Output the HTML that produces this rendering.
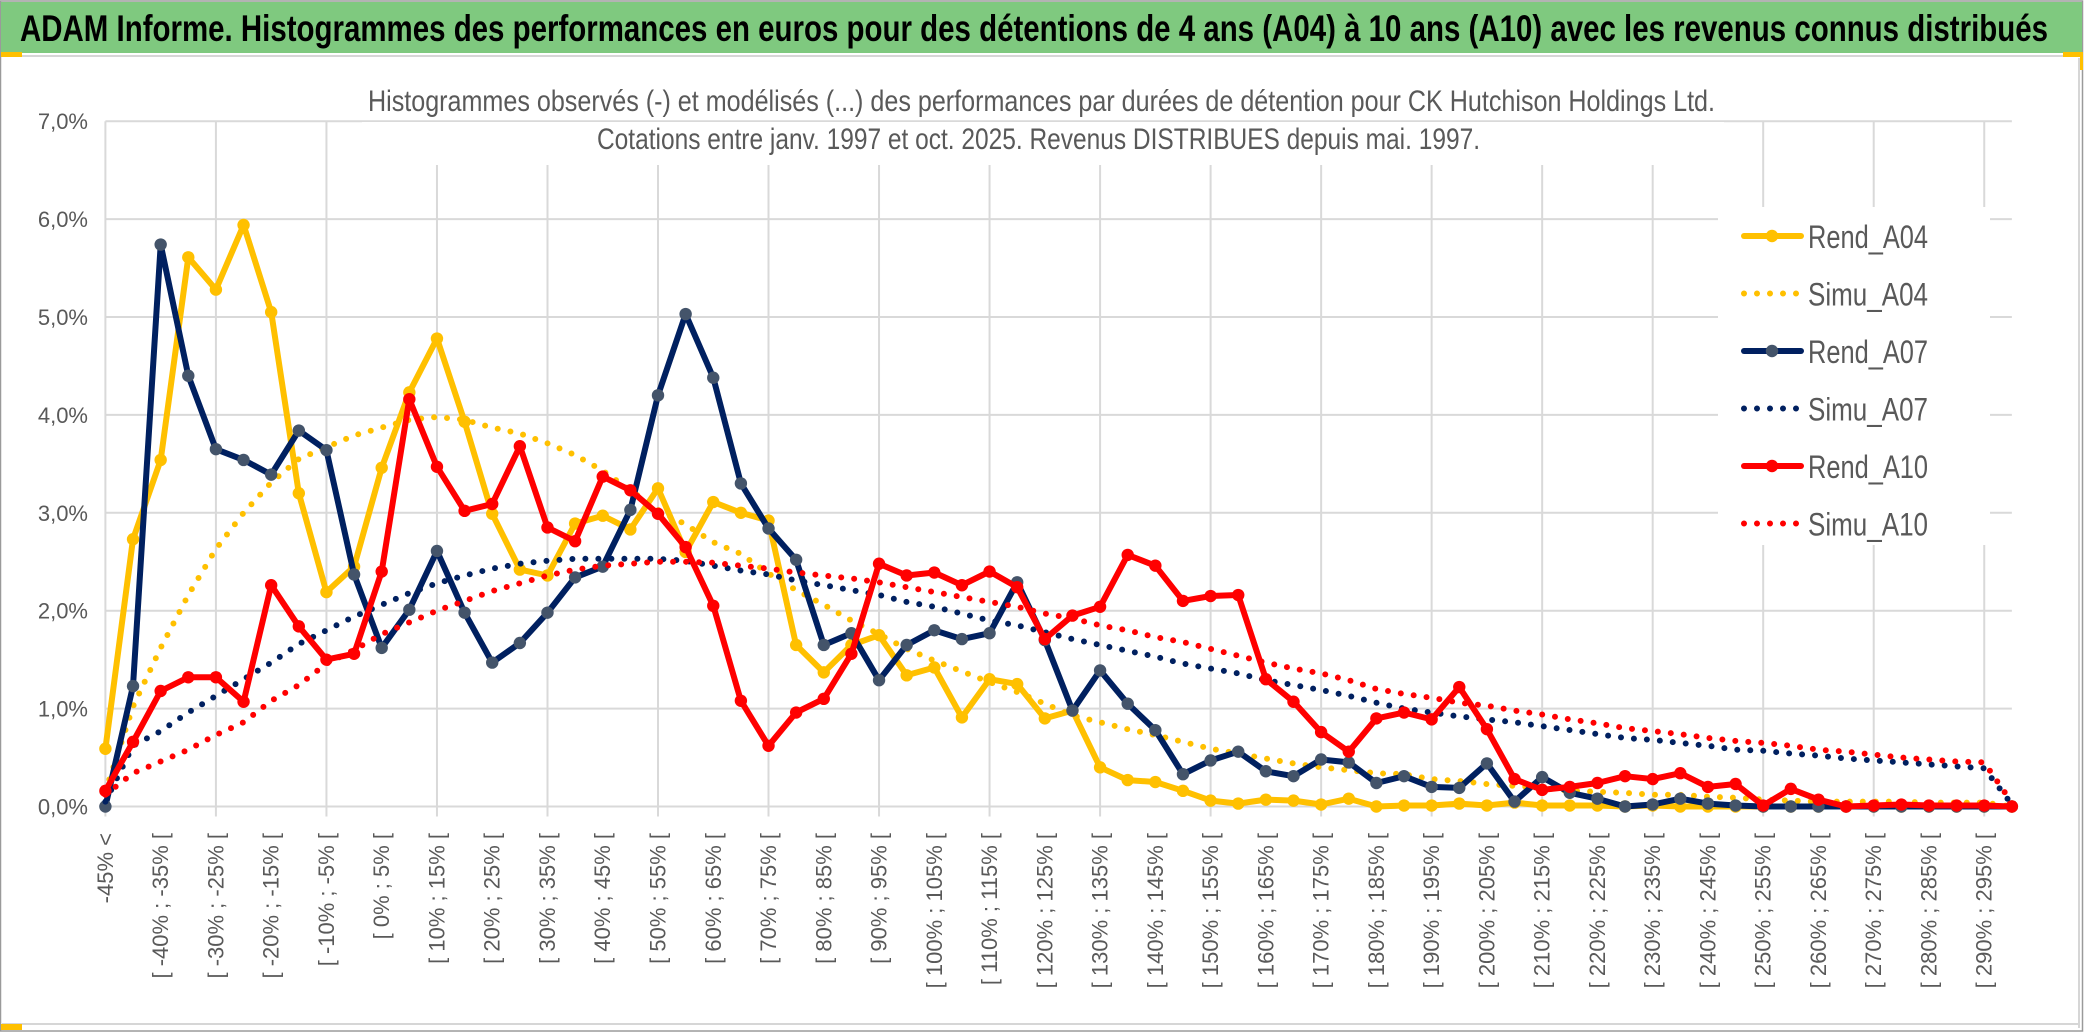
<!DOCTYPE html>
<html><head><meta charset="utf-8"><style>
html,body{margin:0;padding:0;background:#fff;}
svg{display:block;}
text{font-family:"Liberation Sans Narrow","Liberation Sans",sans-serif;}
</style></head><body>
<svg id="chart" width="2086" height="1033" viewBox="0 0 2086 1033" xmlns="http://www.w3.org/2000/svg">
  <rect x="0" y="0" width="2086" height="1033" fill="#ffffff"/>
  <rect x="0.5" y="1" width="2082" height="1030" fill="none" stroke="#9a9a9a" stroke-width="1.5"/>
  <rect x="1" y="2" width="2081" height="51" fill="#7FC97F"/>
  <text x="20" y="41" font-size="37" font-weight="bold" fill="#000" textLength="2028" lengthAdjust="spacingAndGlyphs">ADAM Informe. Histogrammes des performances en euros pour des détentions de 4 ans (A04) à 10 ans (A10) avec les revenus connus distribués</text>
  <rect x="1" y="52" width="21" height="5" fill="#FFC000"/>
  <rect x="2063" y="52" width="20" height="5" fill="#FFC000"/>
  <rect x="2080" y="52" width="3" height="18" fill="#FFC000"/>
  <line x1="22" y1="56" x2="2063" y2="56" stroke="#d6d6d6" stroke-width="2"/>
  <line x1="2079" y1="58" x2="2079" y2="1028" stroke="#d6d6d6" stroke-width="2"/>
  <line x1="2" y1="1024" x2="2079" y2="1024" stroke="#d6d6d6" stroke-width="2"/>
  <rect x="1" y="1024" width="21" height="6" fill="#FFC000"/>
  <g id="grid"></g>
  <g id="yaxis"></g>
  <g id="xaxis"></g>
  <rect x="362" y="122" width="1362" height="43" fill="#ffffff"/>
  <text x="368" y="111" font-size="30" fill="#595959" textLength="1347" lengthAdjust="spacingAndGlyphs">Histogrammes observés (-) et modélisés (...) des performances par durées de détention pour CK Hutchison Holdings Ltd.</text>
  <text x="597" y="149" font-size="30" fill="#595959" textLength="883" lengthAdjust="spacingAndGlyphs">Cotations entre janv. 1997 et oct. 2025. Revenus DISTRIBUES depuis mai. 1997.</text>
  <g id="series"></g>
  <rect x="1718" y="207" width="272" height="338" fill="#ffffff"/>
  <g id="legend"></g>
</svg>
<script>
const categoriesStart = -50;
const categoryCount = 70;
const yTicks = [0,1,2,3,4,5,6,7];
const yTickLabels = ["0,0%","1,0%","2,0%","3,0%","4,0%","5,0%","6,0%","7,0%"];
const seriesNames = ["Rend_A04","Simu_A04","Rend_A07","Simu_A07","Rend_A10","Simu_A10"];
const rendA04 = [0.59,2.73,3.54,5.61,5.28,5.94,5.05,3.20,2.19,2.45,
 3.46,4.23,4.78,3.93,2.99,2.42,2.36,2.89,2.97,2.83,
 3.25,2.60,3.11,3.00,2.92,1.65,1.37,1.65,1.75,1.34,
 1.42,0.91,1.30,1.25,0.90,0.98,0.40,0.27,0.25,0.16,
 0.06,0.03,0.07,0.06,0.02,0.08,0.00,0.01,0.01,0.03,
 0.01,0.04,0.01,0.01,0.01,0.00,0.01,0.00,0.00,0.00,
 0,0,0,0,0,0,0,0,0,0];
const simuA04 = [0.15,1.02,1.62,2.16,2.63,3.00,3.31,3.55,3.67,3.79,
 3.87,3.95,3.98,3.95,3.87,3.81,3.71,3.59,3.43,3.23,
 3.03,2.88,2.70,2.58,2.38,2.21,2.06,1.90,1.76,1.61,
 1.49,1.38,1.27,1.17,1.05,0.93,0.86,0.79,0.73,0.66,
 0.59,0.54,0.49,0.44,0.40,0.37,0.34,0.33,0.28,0.26,
 0.23,0.21,0.19,0.16,0.15,0.14,0.12,0.12,0.10,0.09,
 0.07,0.06,0.05,0.05,0.05,0.05,0.04,0.04,0.04,0.00];
const rendA07 = [0.00,1.23,5.74,4.40,3.65,3.54,3.39,3.84,3.64,2.37,
 1.62,2.01,2.61,1.98,1.47,1.67,1.98,2.34,2.45,3.03,
 4.20,5.03,4.38,3.30,2.84,2.52,1.65,1.77,1.29,1.65,
 1.80,1.71,1.77,2.29,1.70,0.98,1.39,1.05,0.78,0.33,
 0.47,0.56,0.36,0.31,0.48,0.45,0.24,0.31,0.20,0.19,
 0.44,0.05,0.30,0.14,0.08,0.00,0.02,0.08,0.03,0.01,
 0,0,0,0,0,0,0,0,0,0];
const simuA07 = [0.05,0.62,0.77,0.96,1.13,1.30,1.47,1.66,1.80,1.94,
 2.06,2.18,2.28,2.36,2.43,2.48,2.51,2.53,2.53,2.53,
 2.53,2.51,2.46,2.41,2.37,2.31,2.26,2.21,2.16,2.09,
 2.04,1.97,1.90,1.85,1.78,1.71,1.65,1.59,1.53,1.46,
 1.41,1.36,1.29,1.24,1.19,1.13,1.06,1.00,0.96,0.92,
 0.89,0.86,0.82,0.78,0.74,0.70,0.68,0.65,0.62,0.58,
 0.57,0.54,0.52,0.49,0.47,0.45,0.43,0.41,0.39,0.02];
const rendA10 = [0.16,0.66,1.18,1.32,1.32,1.07,2.26,1.84,1.50,1.56,
 2.40,4.16,3.47,3.02,3.09,3.68,2.85,2.71,3.37,3.23,
 2.99,2.65,2.05,1.08,0.62,0.96,1.10,1.56,2.48,2.36,
 2.39,2.26,2.40,2.24,1.71,1.95,2.04,2.57,2.46,2.10,
 2.15,2.16,1.30,1.07,0.76,0.56,0.90,0.96,0.89,1.22,
 0.79,0.28,0.17,0.20,0.24,0.31,0.28,0.34,0.20,0.23,
 0.01,0.18,0.07,0.00,0.01,0.02,0.01,0.01,0.01,0.00];
const simuA10 = [0.12,0.34,0.46,0.58,0.73,0.86,1.08,1.24,1.46,1.60,
 1.76,1.88,2.00,2.10,2.20,2.28,2.36,2.42,2.46,2.48,
 2.50,2.50,2.49,2.46,2.43,2.39,2.36,2.33,2.29,2.24,
 2.19,2.14,2.09,2.04,1.97,1.92,1.85,1.80,1.73,1.68,
 1.61,1.54,1.47,1.41,1.36,1.29,1.20,1.15,1.11,1.06,
 1.03,0.98,0.94,0.89,0.85,0.80,0.77,0.74,0.70,0.67,
 0.65,0.62,0.58,0.56,0.53,0.50,0.48,0.46,0.45,0.04];

const NS = "http://www.w3.org/2000/svg";
const X0 = 105.4, STEP = 27.63, Y0 = 806.5, YU = 97.9;
function xScale(i){ return X0 + STEP * i; }
function yScale(v){ return Y0 - YU * v; }
function mk(tag, attrs, parent){
  const e = document.createElementNS(NS, tag);
  for (const k in attrs) e.setAttribute(k, attrs[k]);
  parent.appendChild(e);
  return e;
}
const categories = [];
for (let i = 0; i < categoryCount; i++){
  if (i === 0) categories.push("-45% <");
  else { const lo = categoriesStart + 5*i; categories.push("[ " + lo + "% ; " + (lo+5) + "% ["); }
}
const xRight = xScale(categoryCount - 1);

const grid = document.getElementById('grid');
yTicks.forEach(function(t){
  const l = mk('line', {x1: X0, x2: xRight, y1: yScale(t), y2: yScale(t), stroke: '#d9d9d9', 'stroke-width': 2}, grid);
  
  
});
for (let i = 0; i < categoryCount; i += 4){
  const l = mk('line', {x1: xScale(i), x2: xScale(i), y1: yScale(7), y2: Y0 + 10, stroke: '#d9d9d9', 'stroke-width': 2}, grid);
  
  
}

const yaxis = document.getElementById('yaxis');
yTicks.forEach(function(t, k){
  const tx = mk('text', {x: 88, y: yScale(t) + 8, 'text-anchor': 'end', 'font-size': 22, fill: '#595959'}, yaxis);
  tx.textContent = yTickLabels[k];
  
  
});

const xaxis = document.getElementById('xaxis');
categories.forEach(function(c, i){
  if (i !== 0 && i % 2 === 1) return;
  const x = xScale(i);
  const tx = mk('text', {x: 0, y: 0, transform: 'translate(' + x + ',833) rotate(-90)', 'text-anchor': 'end', 'dominant-baseline': 'central', 'font-size': 22, fill: '#595959', style: 'font-family:"Liberation Sans",sans-serif'}, xaxis);
  tx.textContent = c;
  
  
});

const seriesG = document.getElementById('series');
function pathFor(vals){
  return vals.map(function(v, i){ return (i ? 'L' : 'M') + xScale(i).toFixed(1) + ' ' + yScale(v).toFixed(1); }).join(' ');
}
function drawRend(vals, color, markerColor, name){
  const g = mk('g', {}, seriesG);
  
  
  const p = mk('path', {d: pathFor(vals), fill: 'none', stroke: color, 'stroke-width': 6, 'stroke-linejoin': 'round', 'stroke-linecap': 'round'}, g);
  
  
  vals.forEach(function(v, i){
    const c = mk('circle', {cx: xScale(i), cy: yScale(v), r: 6.2, fill: markerColor}, g);
    
    
  });
}
function drawSimu(vals, color, name){
  const p = mk('path', {d: pathFor(vals), fill: 'none', stroke: color, 'stroke-width': 6, 'stroke-linecap': 'round', 'stroke-dasharray': '0 13'}, seriesG);
  
  
}
drawRend(rendA04, '#FFC000', '#FFC000', 'rend-a04');
drawSimu(simuA04, '#FFC000', 'simu-a04');
drawRend(rendA07, '#002060', '#44546A', 'rend-a07');
drawSimu(simuA07, '#002060', 'simu-a07');
drawRend(rendA10, '#FF0000', '#FF0000', 'rend-a10');
drawSimu(simuA10, '#FF0000', 'simu-a10');

const legend = document.getElementById('legend');
const legendColors = ['#FFC000','#FFC000','#002060','#002060','#FF0000','#FF0000'];
const legendMarkers = ['#FFC000',null,'#44546A',null,'#FF0000',null];
seriesNames.forEach(function(n, k){
  const y = 236 + 57.5 * k;
  const g = mk('g', {}, legend);
  
  
  if (legendMarkers[k]){
    mk('line', {x1: 1744, x2: 1801, y1: y, y2: y, stroke: legendColors[k], 'stroke-width': 6, 'stroke-linecap': 'round'}, g);
    mk('circle', {cx: 1772, cy: y, r: 6.2, fill: legendMarkers[k]}, g);
  } else {
    mk('line', {x1: 1744, x2: 1800, y1: y, y2: y, stroke: legendColors[k], 'stroke-width': 6, 'stroke-linecap': 'round', 'stroke-dasharray': '0 13'}, g);
  }
  const tx = mk('text', {x: 1808, y: y + 12, 'font-size': 32, fill: '#595959', textLength: 120, lengthAdjust: 'spacingAndGlyphs'}, g);
  tx.textContent = n;
  
  
});
</script>
</body></html>
